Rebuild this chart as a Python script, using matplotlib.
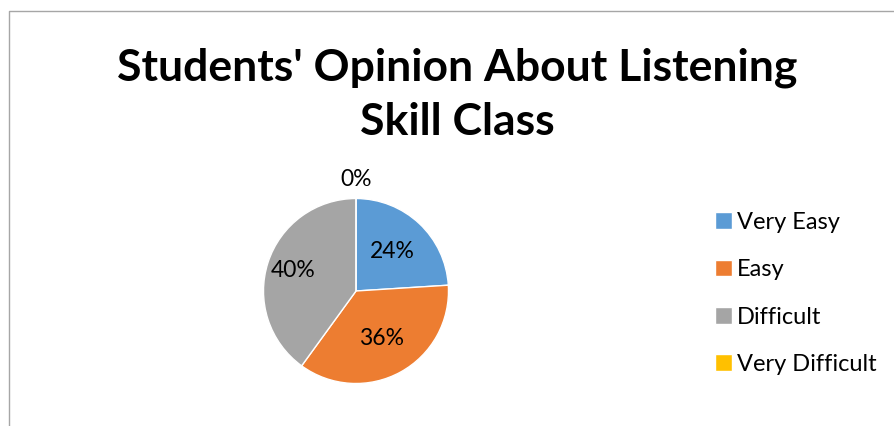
import numpy as np
import matplotlib
matplotlib.use("Agg")
from matplotlib import pyplot as plt
from matplotlib.lines import Line2D

categories = ["Very Easy", "Easy", "Difficult", "Very Difficult"]
shares = [24, 36, 40, 0]
colors = ["#5B9BD5", "#ED7D31", "#A5A5A5", "#FFC000"]

# radial position of each percentage label (in pie radii)
label_radius = [0.58, 0.58, 0.72, 1.20]

plt.rcParams["font.family"] = ["Lato", "DejaVu Sans"]

W, H = 894, 426
fig = plt.figure(figsize=(W / 100, H / 100), dpi=100)

# chart frame: only the top and left edges fall inside the image
fig.add_artist(Line2D([8.5 / W, 8.5 / W, 1], [0, 1 - 11 / H, 1 - 11 / H],
                      transform=fig.transFigure, color="#A6A6A6", lw=1.0))

fig.text(457 / W, 1 - 95 / H, "Students' Opinion About Listening\nSkill Class",
         ha="center", va="center", fontsize=32, fontweight="bold",
         linespacing=1.42, color="#000000")

# pie axes, center at (356, 291) px, radius ~92.5 px
cx, cy, half = 356, H - 291, 130
ax = fig.add_axes([(cx - half) / W, (cy - half) / H, 2 * half / W, 2 * half / H])

wedges, _ = ax.pie(shares, colors=colors, startangle=90, counterclock=False,
                   wedgeprops=dict(edgecolor="white", linewidth=1.0))

lim = half / 92.5
ax.set_xlim(-lim, lim)
ax.set_ylim(-lim, lim)
ax.set_aspect("equal")
ax.axis("off")

for w, v, r in zip(wedges, shares, label_radius):
    mid = np.deg2rad((w.theta1 + w.theta2) / 2)
    ax.text(r * np.cos(mid), r * np.sin(mid), "%d%%" % v,
            ha="center", va="center", fontsize=16.5, color="#000000")

fig.legend(wedges, categories, loc="upper left",
           bbox_to_anchor=(703 / W, 1 - 200 / H), frameon=False,
           fontsize=17, handlelength=0.72, handleheight=0.72,
           handletextpad=0.22, labelspacing=1.12, borderpad=0)

fig.savefig("out.png", dpi=100)
